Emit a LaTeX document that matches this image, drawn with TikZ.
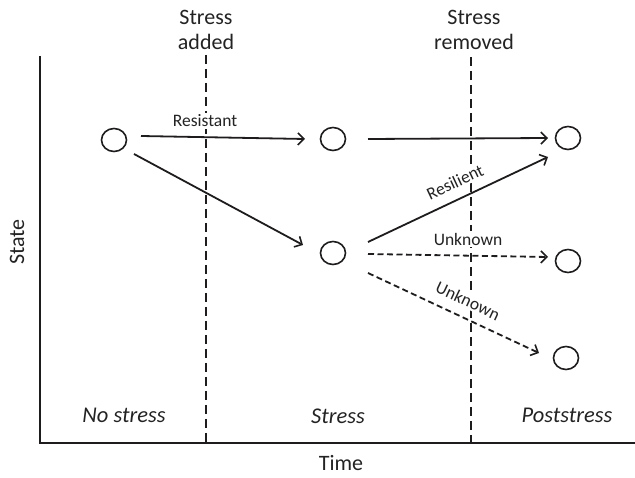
\documentclass[tikz,border=0pt]{standalone}
\usepackage{fontspec}
\setmainfont{Carlito}
\usetikzlibrary{calc,arrows.meta,shapes.geometric}
\definecolor{ink}{RGB}{30,28,29}
\definecolor{txt}{RGB}{35,35,35}
\begin{document}
\begin{tikzpicture}[x=1pt,y=-1pt,
  state/.style={draw=ink,line width=1.6pt,ellipse,minimum width=25pt,minimum height=23pt,inner sep=0pt},
  big/.style={text=txt,font=\fontsize{22}{25}\selectfont},
  bigit/.style={text=txt,font=\fontsize{22.5}{26}\selectfont\itshape},
  small/.style={text=txt,fill=white,inner sep=1.5pt,font=\fontsize{17.5}{20}\selectfont},
  arr/.style={draw=ink,line width=1.8pt,-{Straight Barb[length=6pt,width=12pt,line width=1.6pt]}},
  darr/.style={arr,dash pattern=on 6pt off 3.5pt},
  phase/.style={draw=ink,line width=2pt,dash pattern=on 9pt off 5pt},
  axis/.style={draw=ink,line width=2.4pt}]
\useasboundingbox (0,0) rectangle (635,478);
% axes
\coordinate (ytop) at (40,56);
\coordinate (orig) at (40,443);
\coordinate (xend) at (635,443);
\draw[axis] (ytop) -- (orig) -- (xend);
% phase lines
\coordinate (a1) at (206,55);
\coordinate (a2) at (206,443);
\coordinate (b1) at (471,57);
\coordinate (b2) at (471,443);
\draw[phase] (a1) -- (a2);
\draw[phase] (b1) -- (b2);
% labels
\node[big,align=center] (sa) at (206,30) {Stress\\added};
\node[big,align=center] (sr) at (474,30) {Stress\\removed};
\node[big] (time) at (341,463) {Time};
\node[big,rotate=90] (stl) at (17,242) {State};
\node[bigit] (ns) at (124,415) {No stress};
\node[bigit] (st) at (338,416) {Stress};
\node[bigit] (ps) at (567,415) {Poststress};
% edge labels (mask the phase lines)
\node[small] (lr) at (205,121) {Resistant};
\node[small,rotate=25] (lres) at (455,182) {Resilient};
\node[small] (lu1) at (468,239) {Unknown};
\node[small,rotate=-25] (lu2) at (468,301) {Unknown};
% states
\node[state] (n1) at (114,140) {};
\node[state] (n2) at (333,139) {};
\node[state] (n3) at (333,253) {};
\node[state] (n4) at (568,138) {};
\node[state] (n5) at (568,261) {};
\node[state] (n6) at (566,358) {};
% arrows
\draw[arr] ($(n1)+(27,-4)$) -- ($(n2)+(-28,0)$);
\draw[arr] ($(n1)+(20,14)$) -- ($(n3)+(-30,-8)$);
\draw[arr] ($(n2)+(35,0)$) -- ($(n4)+(-20,0)$);
\draw[arr] ($(n3)+(35,-11)$) -- ($(n4)+(-20,19)$);
\draw[darr] ($(n3)+(35,1)$) -- ($(n5)+(-20,-4)$);
\draw[darr] ($(n3)+(35,20)$) -- ($(n6)+(-27,-5)$);
\end{tikzpicture}
\end{document}
